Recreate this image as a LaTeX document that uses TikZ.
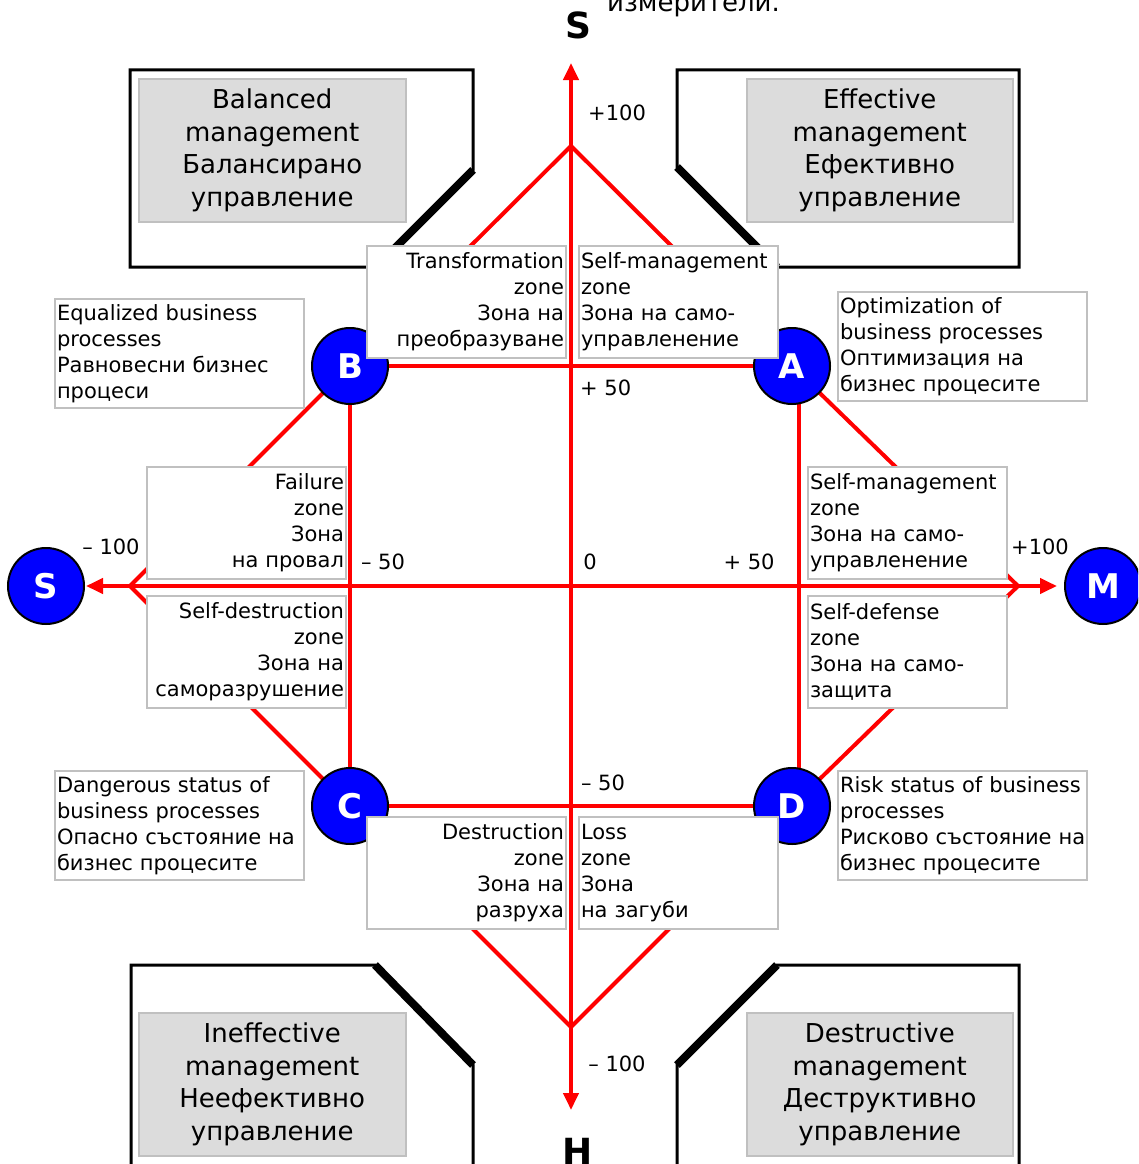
\documentclass[tikz,border=0pt]{standalone}
\usepackage{fontspec}
\setmainfont{DejaVu Sans}
\usetikzlibrary{arrows.meta}
\definecolor{zred}{RGB}{255,0,0}
\definecolor{zblue}{RGB}{0,0,255}
\definecolor{zgrayb}{RGB}{192,192,192}
\definecolor{zfill}{RGB}{220,220,220}
\pgfdeclarelayer{back}\pgfdeclarelayer{mid}\pgfsetlayers{back,mid,main}
\tikzset{
 zonebox/.style={draw=zgrayb, line width=2pt, fill=white, inner xsep=2pt, inner ysep=0pt, text width=195pt, minimum height=112pt, anchor=north west, font=\fontsize{21}{26}\selectfont},
 sidebox/.style={draw=zgrayb, line width=2pt, fill=white, inner xsep=2pt, inner ysep=0pt, text width=245pt, minimum height=109pt, anchor=north west, align=left, font=\fontsize{21}{26}\selectfont},
 mgmt/.style={draw=zgrayb, line width=1.5pt, fill=zfill, minimum width=267pt, minimum height=143pt, anchor=north west, align=center, inner sep=0pt, font=\fontsize{26}{32.5}\selectfont},
 letter/.style={circle, draw=black, line width=2pt, fill=zblue, text=white, minimum size=76pt, inner sep=0pt, font=\fontsize{34}{34}\selectfont\bfseries},
 num/.style={font=\fontsize{21}{26}\selectfont, inner sep=0pt},
 redline/.style={draw=zred, line width=4pt},
 tipS/.tip={Triangle[length=17pt,width=15pt]},
 outline/.style={line width=3pt, line join=miter},
 diag/.style={line width=8pt},
}
\begin{document}
\begin{tikzpicture}[x=1pt,y=-1pt]
\useasboundingbox (0,0) rectangle (1138,1164);
\clip (0,0) rectangle (1138,1164);

% named structural coordinates
\coordinate (O) at (571,586);
\coordinate (vtop) at (571,63);
\coordinate (vbot) at (571,1110);
\coordinate (topV) at (571,146);
\coordinate (botV) at (571,1027);
\coordinate (leftV) at (130,586);
\coordinate (rightV) at (1018,586);

% circles
\node[letter] (B) at (350,366) {B};
\node[letter] (A) at (792,366) {A};
\node[letter] (C) at (350,806) {C};
\node[letter] (D) at (792,806) {D};
\node[letter] (Sl) at (46,586) {S};
\node[letter] (Mr) at (1103,586) {M};

% outer management frames
\begin{pgfonlayer}{back}
\draw[outline] (130,70) -- (473,70) -- (473,170) -- (376,267) -- (130,267) -- cycle;
\draw[diag] (473,170) -- (376,267);
\draw[outline] (677,70) -- (1019,70) -- (1019,267) -- (777,267) -- (677,167) -- cycle;
\draw[diag] (677,167) -- (777,267);
\draw[outline] (131,1170) -- (131,965) -- (375,965) -- (473,1065) -- (473,1170);
\draw[diag] (375,965) -- (473,1065);
\draw[outline] (677,1170) -- (677,1065) -- (777,965) -- (1019,965) -- (1019,1170);
\draw[diag] (777,965) -- (677,1065);
\end{pgfonlayer}

% red lines
\begin{pgfonlayer}{mid}
\draw[redline] (topV) -- (B.center) -- (leftV) -- (C.center) -- (botV) -- (D.center) -- (rightV) -- (A.center) -- cycle;
\draw[redline] (B.center) -- (A.center);
\draw[redline] (C.center) -- (D.center);
\draw[redline] (B.center) -- (C.center);
\draw[redline] ([xshift=7pt]A.center) -- ([xshift=7pt]D.center);
\draw[redline, tipS-tipS] (vbot) -- (vtop);
\draw[redline, tipS-tipS, shorten <=1pt, shorten >=7pt] (Sl) -- (Mr);
\end{pgfonlayer}

% management boxes
\node[mgmt] (bal) at (138,78) {Balanced\\management\\Балансирано\\управление};
\node[mgmt, minimum width=266pt] (eff) at (746,78) {Effective\\management\\Ефективно\\управление};
\node[mgmt] (ineff) at (138,1012) {Ineffective\\management\\Неефективно\\управление};
\node[mgmt, minimum width=266pt] (destr) at (746,1012) {Destructive\\management\\Деструктивно\\управление};

% zone boxes
\node[zonebox, align=right] (ztr) at (366,245) {Transformation\\zone\\Зона на\\преобразуване};
\node[zonebox, align=left] (zsm) at (578,245) {Self-management\\zone\\Зона на само-\\управленение};
\node[zonebox, align=right] (zfa) at (146,466) {Failure\\zone\\Зона\\на провал};
\node[zonebox, align=right] (zsd) at (146,595) {Self-destruction\\zone\\Зона на\\саморазрушение};
\node[zonebox, align=left] (zsm2) at (807,466) {Self-management\\zone\\Зона на само-\\управленение};
\node[zonebox, align=left] (zdef) at (807,595) {Self-defense\\zone\\Зона на само-\\защита};
\node[zonebox, align=right] (zdes) at (366,816) {Destruction\\zone\\Зона на\\разруха};
\node[zonebox, align=left] (zlo) at (578,816) {Loss\\zone\\Зона\\на загуби};

% side boxes
\node[sidebox] (eq) at (54,298) {Equalized business\\processes\\Равновесни бизнес\\процеси};
\node[sidebox] (opt) at (837,291) {Optimization of\\business processes\\Оптимизация на\\бизнес процесите};
\node[sidebox] (dng) at (54,770) {Dangerous status of\\business processes\\Опасно състояние на\\бизнес процесите};
\node[sidebox] (rsk) at (837,770) {\mbox{Risk status of business}\\processes\\\mbox{Рисково състояние на}\\бизнес процесите};

% numbers
\node[num, anchor=west] (n1) at (588,113) {+100};
\node[num, anchor=west] (n2) at (580,388) {+ 50};
\node[num] (n3) at (590,562) {0};
\node[num] (n4) at (749,562) {+ 50};
\node[num] (n5) at (383,562) {– 50};
\node[num] (n6) at (111,547) {– 100};
\node[num] (n7) at (1040,547) {+100};
\node[num] (n8) at (603,783) {– 50};
\node[num] (n9) at (617,1064) {– 100};

% axis labels
\node[font=\fontsize{36}{36}\selectfont\bfseries, inner sep=0pt] (axS) at (578,25) {S};
\node[font=\fontsize{36}{36}\selectfont\bfseries, inner sep=0pt] (axH) at (578,1151) {H};
\node[font=\fontsize{26}{30}\selectfont, inner sep=0pt, anchor=base west] (frag) at (607,12) {измерители.};
\end{tikzpicture}
\end{document}
